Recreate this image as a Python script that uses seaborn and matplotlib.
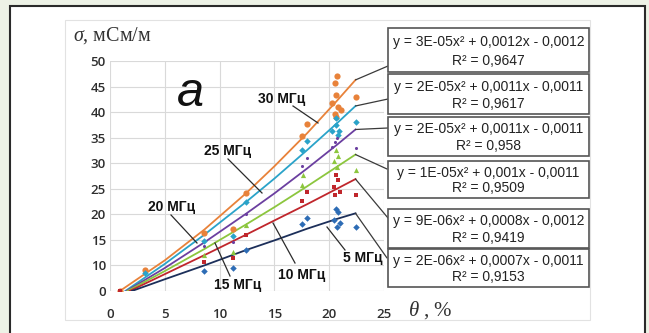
import matplotlib
matplotlib.use("Agg")
import matplotlib.pyplot as plt
from matplotlib.patches import Rectangle
import numpy as np
import pandas as pd
import seaborn as sns

# ---------------- data ----------------
freqs = ["30 МГц", "25 МГц", "20 МГц", "15 МГц", "10 МГц", "5 МГц"]

x_30 = [0.9, 3.2, 8.6, 11.2, 12.4, 17.5, 18.0, 20.7, 20.5, 20.6, 20.3, 20.8, 21.1, 20.5, 20.6, 22.4]
y_30 = [5.0, 9.2, 16.3, 17.1, 24.1, 35.3, 37.6, 47.1, 45.6, 43.3, 41.7, 41.0, 40.5, 39.7, 39.1, 43.0]
x_25 = [3.2, 8.6, 11.2, 12.4, 17.5, 18.0, 20.6, 20.6, 20.9, 20.3, 20.8, 22.4]
y_25 = [8.5, 14.8, 15.8, 22.4, 32.5, 34.3, 38.9, 37.4, 36.4, 36.3, 35.5, 38.1]
x_20 = [8.6, 11.2, 12.4, 17.5, 18.0, 20.5, 20.7, 20.3, 22.4]
y_20 = [13.8, 14.6, 20.1, 29.4, 31.0, 34.2, 35.0, 33.2, 33.0]
x_15 = [8.6, 11.2, 12.4, 17.5, 17.6, 20.6, 20.8, 20.45, 20.7, 22.4]
y_15 = [12.1, 12.7, 18.0, 25.8, 27.6, 32.5, 31.5, 30.5, 29.2, 28.7]
x_10 = [0.9, 8.6, 11.2, 12.4, 17.5, 18.0, 20.6, 20.8, 20.45, 21.0, 20.55, 22.4]
y_10 = [5.0, 10.6, 11.4, 16.0, 22.7, 24.3, 27.6, 26.8, 25.3, 24.3, 23.7, 23.7]
x_5 = [8.6, 11.2, 12.4, 17.5, 18.0, 20.6, 20.8, 20.45, 21.0, 20.7, 22.4]
y_5 = [8.9, 9.5, 13.0, 18.1, 19.3, 21.1, 20.4, 18.9, 18.4, 17.5, 17.5]

# fitted (trend) curves
trend_start_x = [0.9, 1.4, 1.5, 1.6, 1.8, 2.0]   # where each curve leaves the bottom line
trend_x = [5, 8.6, 12.4, 15, 18, 20.7, 22.4]
trend_30 = [11.0, 17.0, 24.1, 29.4, 35.9, 42.2, 46.3]
trend_25 = [10.3, 16.0, 22.4, 27.0, 32.6, 37.8, 41.2]
trend_20 = [9.5, 14.5, 20.1, 24.1, 29.0, 33.6, 36.6]
trend_15 = [8.9, 13.2, 18.0, 21.4, 25.5, 29.3, 31.7]
trend_10 = [8.3, 12.0, 16.0, 18.8, 22.0, 25.0, 26.9]
trend_5 = [7.3, 10.0, 13.0, 14.9, 17.2, 19.1, 20.2]

equations = ["y = 3E-05x² + 0,0012x - 0,0012", "y = 2E-05x² + 0,0011x - 0,0011",
             "y = 2E-05x² + 0,0011x - 0,0011", "y = 1E-05x² + 0,001x - 0,0011",
             "y = 9E-06x² + 0,0008x - 0,0012", "y = 2E-06x² + 0,0007x - 0,0011"]
r2_values = ["R² = 0,9647", "R² = 0,9617", "R² = 0,958", "R² = 0,9509",
             "R² = 0,9419", "R² = 0,9153"]

y_ticks = [5, 10, 15, 20, 25, 30, 35, 40, 45, 50]
y_tick_labels = ["0", "10", "15", "20", "25", "30", "35", "40", "45", "50"]
x_ticks = [0, 5, 10, 15, 20, 25]
baseline = 5.0

# ---------------- styling ----------------
mk_col = {"30 МГц": "#e8823a", "25 МГц": "#2aa3c9", "20 МГц": "#6b3fa0",
          "15 МГц": "#8cc63e", "10 МГц": "#c0262c", "5 МГц": "#2d6cb5"}
ln_col = dict(mk_col)
ln_col["5 МГц"] = "#1c2f5a"
markers = {"30 МГц": "o", "25 МГц": "D", "20 МГц": "o", "15 МГц": "^",
           "10 МГц": "s", "5 МГц": "D"}
sizes = {"30 МГц": 20, "25 МГц": 11, "20 МГц": 5, "15 МГц": 14, "10 МГц": 12, "5 МГц": 11}

xs = [x_30, x_25, x_20, x_15, x_10, x_5]
ys = [y_30, y_25, y_20, y_15, y_10, y_5]
trends = [trend_30, trend_25, trend_20, trend_15, trend_10, trend_5]

pts = pd.concat([pd.DataFrame({"theta": xx, "sigma": yy, "freq": f})
                 for f, xx, yy in zip(freqs, xs, ys)], ignore_index=True)
tr = pd.concat([pd.DataFrame({"theta": [sx] + trend_x, "sigma": [baseline] + t, "freq": f})
                for f, sx, t in zip(freqs, trend_start_x, trends)], ignore_index=True)

W, H = 649, 333
plt.rcParams["mathtext.fontset"] = "custom"
plt.rcParams["mathtext.it"] = "Liberation Serif:italic"
plt.rcParams["mathtext.rm"] = "Liberation Serif"

fig = plt.figure(figsize=(W / 100, H / 100), dpi=100)
fig.patch.set_facecolor("#edf2e6")

def fx(px):
    return px / W

def fy(py):
    return 1 - py / H

# outer white frame with dark border
fig.patches.append(Rectangle((fx(10), -0.05), fx(645) - fx(10), fy(6) + 0.05,
                             transform=fig.transFigure, fc="white", ec="#2a2a2a", lw=1.5, zorder=-3))
# inner chart panel
fig.patches.append(Rectangle((fx(65), fy(320)), fx(590) - fx(65), fy(20) - fy(320),
                             transform=fig.transFigure, fc="white", ec="#e2e2e2", lw=0.8, zorder=-2))

ax = fig.add_axes([fx(110), fy(291), fx(384) - fx(110), fy(61) - fy(291)])
ax.set_facecolor("white")
ax.set_xlim(0, 25)
ax.set_ylim(5, 50)
ax.grid(True, color="#d9d9d9", lw=0.8)
ax.set_axisbelow(True)
for s in ax.spines.values():
    s.set_visible(False)

sns.lineplot(data=tr, x="theta", y="sigma", hue="freq", palette=ln_col, estimator=None,
             sort=False, lw=1.3, legend=False, ax=ax, zorder=3)
for f in freqs:
    sub = pts[pts.freq == f]
    sns.scatterplot(data=sub, x="theta", y="sigma", color=mk_col[f], marker=markers[f],
                    s=sizes[f], linewidth=0, legend=False, ax=ax, zorder=4)

ax.set_xticks(x_ticks)
ax.set_yticks(y_ticks)
ax.set_yticklabels(y_tick_labels)
ax.set_xlabel("")
ax.set_ylabel("")
ax.tick_params(length=0, labelsize=9.5, colors="#2e2e2e")
ax.tick_params(axis="x", pad=12)
ax.tick_params(axis="y", pad=3)
for lab in ax.get_xticklabels() + ax.get_yticklabels():
    lab.set_fontfamily("Open Sans")
    lab.set_fontweight("semibold")

# px -> data helpers for placing labels
def dx(px):
    return (px - 110) / (274 / 25)

def dy(py):
    return 50 - (py - 61) / (230 / 45)

# big letter
ax.text(dx(190), dy(94), "a", fontsize=35, style="italic", family="Liberation Sans",
        ha="center", va="center", color="#111111", zorder=5)

# frequency labels with pointer lines: (text center px, line start px, line end on curve px)
lab_pos = {"30 МГц": ((282, 99), (293, 106), (318, 123)),
           "25 МГц": ((228, 151), (228, 159), (262, 193)),
           "20 МГц": ((172, 207), (171, 215), (197, 243)),
           "15 МГц": ((238, 285), (230, 276), (215, 243)),
           "10 МГц": ((302, 275), (295, 263), (273, 223)),
           "5 МГц": ((363, 258), (345, 250), (327, 227))}
for f, (tc, ls, le) in lab_pos.items():
    ax.plot([dx(ls[0]), dx(le[0])], [dy(ls[1]), dy(le[1])], color="#2b2b2b", lw=0.9,
            zorder=6, clip_on=False)
    ax.text(dx(tc[0]), dy(tc[1]), f, fontsize=10, fontweight="bold", family="Liberation Sans",
            ha="center", va="center", color="#111111", zorder=7, clip_on=False)

# equation boxes
boxes = [(28, 72), (74, 114), (117, 156), (161, 198), (209, 248), (249, 287)]
conn_to = [(388, 66), (388, 99), (388, 128), (387, 169), (388, 218), (387, 258)]
for i, (t, b) in enumerate(boxes):
    fig.patches.append(Rectangle((fx(388), fy(b)), fx(589) - fx(388), fy(t) - fy(b),
                                 transform=fig.transFigure, fc="white", ec="#555555",
                                 lw=1.2, zorder=5))
    fig.text(fx(488.5), fy(t + (b - t) * 0.32), equations[i], ha="center", va="center",
             fontsize=10, family="Liberation Sans", color="#222222", zorder=6)
    fig.text(fx(488.5), fy(t + (b - t) * 0.74), r2_values[i], ha="center", va="center",
             fontsize=10, family="Liberation Sans", color="#222222", zorder=6)
    ax.annotate("", xy=(trend_x[-1], trends[i][-1]), xycoords="data",
                xytext=(fx(conn_to[i][0]), fy(conn_to[i][1])), textcoords="figure fraction",
                arrowprops=dict(arrowstyle="-", color="#3a3a3a", lw=0.9, shrinkA=0, shrinkB=0),
                annotation_clip=False, zorder=4)

# axis titles
fig.text(fx(73), fy(36), r"$\sigma$, мСм/м", fontsize=14.5, family="Liberation Serif",
         ha="left", va="center", color="#333333")
fig.text(fx(408), fy(310), r"$\theta$ , %", fontsize=15, family="Liberation Serif",
         ha="left", va="center", color="#333333")

fig.savefig("out.png", dpi=100, facecolor=fig.get_facecolor())
